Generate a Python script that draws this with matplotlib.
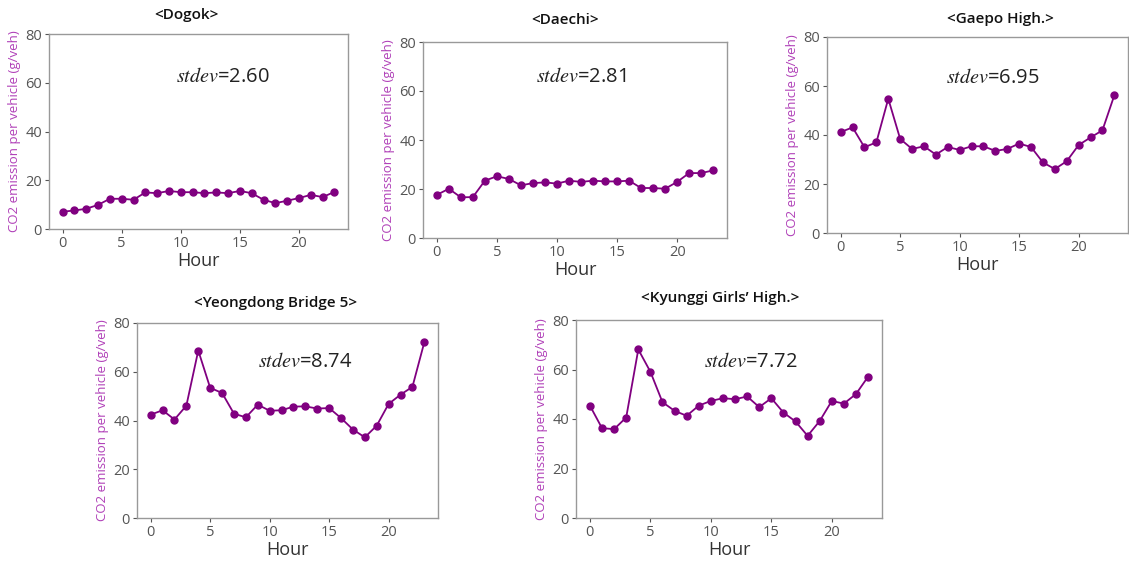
import matplotlib
matplotlib.use("Agg")
import matplotlib.pyplot as plt
import numpy as np

plt.rcParams['font.family'] = ['Open Sans', 'DejaVu Sans']
plt.rcParams['mathtext.fontset'] = 'stix'

hours = list(range(24))

titles = ["<Dogok>", "<Daechi>", "<Gaepo High.>", "<Yeongdong Bridge 5>", "<Kyunggi Girls\u2019 High.>"]
stdevs = ["2.60", "2.81", "6.95", "8.74", "7.72"]

dogok = [7.1, 7.6, 8.3, 9.9, 12.4, 12.4, 12.0, 15.0, 14.7, 15.6, 15.1, 15.1,
         14.7, 15.0, 14.7, 15.6, 14.7, 12.0, 10.6, 11.6, 12.7, 14.0, 13.1, 15.2]
daechi = [17.6, 20.1, 16.6, 16.7, 23.4, 25.2, 24.1, 21.5, 22.4, 22.7, 22.2, 23.4,
          22.9, 23.4, 23.1, 23.1, 23.4, 20.4, 20.4, 20.1, 22.9, 26.5, 26.5, 27.6]
gaepo = [41.2, 43.1, 35.0, 37.0, 54.8, 38.4, 34.3, 35.4, 32.0, 35.1, 33.9, 35.4,
         35.4, 33.5, 34.3, 36.5, 35.1, 28.8, 26.1, 29.3, 35.9, 39.0, 41.9, 56.2]
yeongdong = [42.4, 44.2, 40.4, 46.1, 68.7, 53.4, 51.3, 42.8, 41.3, 46.5, 44.0, 44.2,
             45.7, 45.8, 44.9, 45.1, 41.0, 36.3, 33.1, 37.9, 46.8, 50.6, 53.8, 72.1]
kyunggi = [45.4, 36.3, 35.9, 40.6, 68.1, 59.1, 46.8, 43.3, 41.3, 45.4, 47.3, 48.4,
           48.0, 49.1, 44.8, 48.4, 42.6, 39.0, 33.2, 39.2, 47.3, 46.2, 50.1, 57.1]

series = [dogok, daechi, gaepo, yeongdong, kyunggi]

W, H = 1129, 562
# axes boxes in pixels: left, right, top, bottom
boxes = [(49, 348, 34, 229), (423, 727, 42, 238), (827, 1128, 37, 233),
         (137, 438, 323, 518), (576, 882, 320, 518)]
title_pos = [(186, 15), (565, 20), (1000, 19), (276, 303), (720, 298)]
text_pos = [(0.58, 0.78), (0.52, 0.82), (0.55, 0.79), (0.56, 0.80), (0.57, 0.79)]

fig = plt.figure(figsize=(W / 100, H / 100), dpi=100)

for i in range(5):
    l, r, t, b = boxes[i]
    ax = fig.add_axes([l / W, 1 - b / H, (r - l) / W, (b - t) / H])
    ax.plot(hours, series[i], color='#800080', marker='o', markersize=5, linewidth=1.3)
    ax.set_ylim(0, 80)
    ax.set_yticks([0, 20, 40, 60, 80])
    ax.set_xticks([0, 5, 10, 15, 20])
    ax.tick_params(colors='#555555', labelsize=10.5, length=3, width=0.8, pad=2)
    for s in ax.spines.values():
        s.set_color('#999999')
        s.set_linewidth(1.0)
    ax.set_xlabel('Hour', fontsize=13, color='#333333', labelpad=1)
    ax.set_ylabel('CO2 emission per vehicle (g/veh)', fontsize=9.5, color='#b040b8', labelpad=3)
    ax.text(text_pos[i][0], text_pos[i][1], r'$stdev$=' + stdevs[i], transform=ax.transAxes,
            ha='center', va='center', fontsize=14.5, color='#222222')
    fig.text(title_pos[i][0] / W, 1 - title_pos[i][1] / H, titles[i], ha='center', va='center',
             fontsize=11, fontweight='semibold', color='#111111')

fig.savefig('out.png', dpi=100)
